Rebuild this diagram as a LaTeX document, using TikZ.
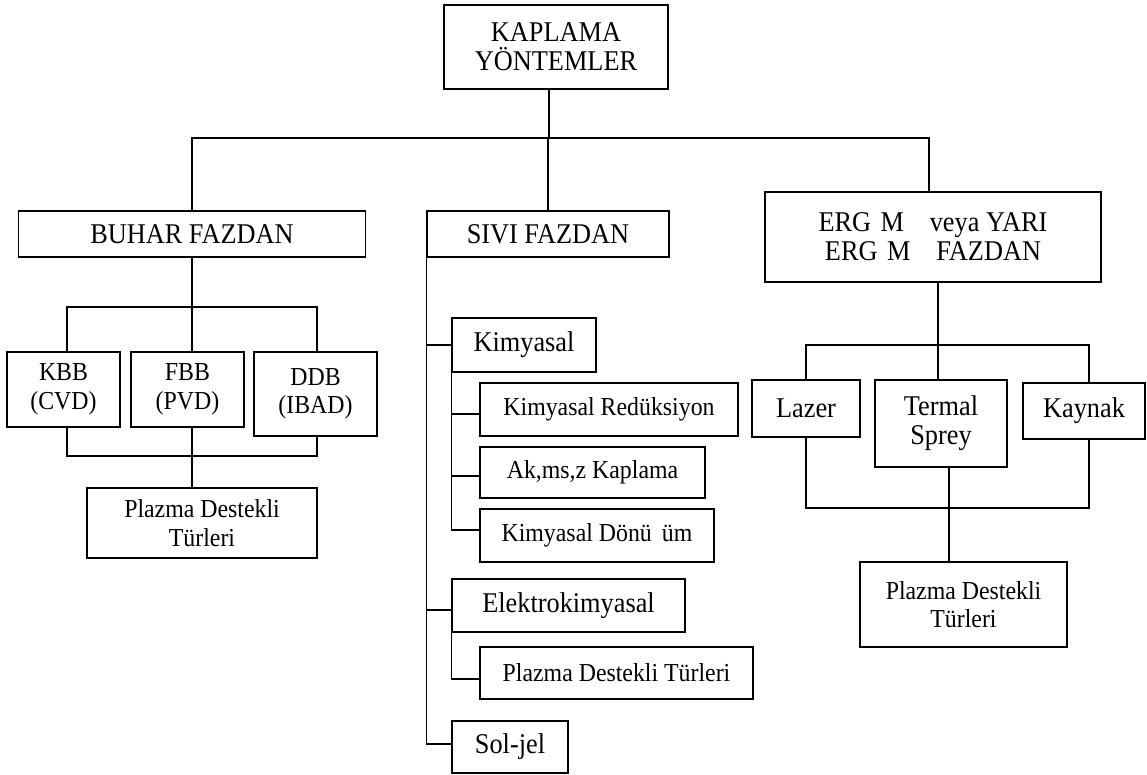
\documentclass[tikz,border=0pt]{standalone}
\usepackage{fontspec}
\setmainfont[FakeStretch=0.92]{Liberation Serif}
\begin{document}
\begin{tikzpicture}[x=1pt,y=-1pt,
  line width=1.5pt,
  box/.style={draw, line width=1.5pt, rectangle, inner sep=0pt, align=center},
  big/.style={font=\fontsize{28.6pt}{29pt}\selectfont},
  small/.style={font=\fontsize{25.9pt}{28.5pt}\selectfont}]
\useasboundingbox (0,0) rectangle (1147,775);

% top level
\node[box,big,minimum width=224,minimum height=84] (top) at (556,47) {KAPLAMA\\YÖNTEMLER};

% second level
\node[box,big,minimum width=347,minimum height=46] (buhar) at (192,234) {BUHAR FAZDAN};
\node[box,big,minimum width=242,minimum height=46] (sivi) at (548,234) {SIVI FAZDAN};
\node[box,big,minimum width=336,minimum height=90] (erg) at (933,237)
  {ERG\hspace{.333em}M\hspace{.9em}veya YARI\\ERG\hspace{.333em}M\hspace{.9em}FAZDAN};

% vapour phase branch
\node[box,small,minimum width=113,minimum height=75] (kbb) at (63.5,389.5) {KBB\\(CVD)};
\node[box,small,minimum width=113,minimum height=75] (fbb) at (187.5,389.5) {FBB\\(PVD)};
\node[box,small,minimum width=123,minimum height=84] (ddb) at (315.5,394) {DDB\\(IBAD)};
\node[box,small,minimum width=230,minimum height=70] (plazL) at (202,523) {Plazma Destekli\\Türleri};

% liquid phase branch
\node[box,big,minimum width=144,minimum height=54] (kim) at (524,345) {Kimyasal};
\node[box,small,minimum width=258,minimum height=53] (red) at (609,409.5) {Kimyasal Redüksiyon};
\node[box,small,minimum width=225,minimum height=51] (akm) at (592.5,472.5) {Ak,ms,z Kaplama};
\node[box,small,minimum width=234,minimum height=53] (don) at (597,535.5) {Kimyasal Dönü\hspace{.389em}üm};
\node[box,big,minimum width=233,minimum height=53] (elk) at (568.5,605.5) {Elektrokimyasal};
\node[box,small,minimum width=273,minimum height=52] (plazM) at (616.5,673) {Plazma Destekli Türleri};
\node[box,big,minimum width=116,minimum height=52] (sol) at (510,747) {Sol-jel};

% molten / semi-molten branch
\node[box,big,minimum width=108,minimum height=57] (lazer) at (806,408.5) {Lazer};
\node[box,big,minimum width=132,minimum height=87] (termal) at (941,423.5) {Termal\\Sprey};
\node[box,big,minimum width=122,minimum height=56] (kaynak) at (1084,411) {Kaynak};
\node[box,small,minimum width=207,minimum height=85] (plazR) at (963.5,604.5) {Plazma Destekli\\Türleri};

% junction points
\coordinate (busT) at (549,138);
\coordinate (busB) at (192,307);
\coordinate (busL) at (192,456);
\coordinate (busR) at (938,345);
\coordinate (busR2) at (949,508);

% attachment points on the box sides
\coordinate (solIn) at ([yshift=3pt]sol.west);
\coordinate (elkIn) at ([yshift=-4.5pt]elk.west);
\coordinate (redIn) at ([yshift=-4.5pt]red.west);
\coordinate (akmIn) at ([yshift=-3.5pt]akm.west);
\coordinate (donIn) at ([yshift=5.5pt]don.west);
\coordinate (plazMIn) at ([yshift=-6pt]plazM.west);

% top bus
\draw ([xshift=-7pt]top.south) -- (busT);
\draw (buhar.north) |- (busT);
\draw ([xshift=-4pt]erg.north) |- (busT);
\draw (sivi.north) -- (sivi.north |- busT);

% vapour phase connectors
\draw (buhar.south) -- (busB);
\draw ([xshift=3.5pt]kbb.north) |- (busB);
\draw ([xshift=1.5pt]ddb.north) |- (busB);
\draw ([xshift=4.5pt]fbb.north) -- (busB);
\draw ([xshift=3.5pt]kbb.south) |- (busL);
\draw ([xshift=1.5pt]ddb.south) |- (busL);
\draw ([xshift=4.5pt]fbb.south) -- (busL) -- (busL |- plazL.north);

% liquid phase connectors
\draw (sivi.south west) |- (solIn);
\draw (kim.west -| sivi.south west) -- (kim.west);
\draw (elkIn -| sivi.south west) -- (elkIn);
\draw (kim.south west) |- (donIn);
\draw (redIn -| kim.south west) -- (redIn);
\draw (akmIn -| kim.south west) -- (akmIn);
\draw (elk.south west) |- (plazMIn);

% molten phase connectors
\draw ([xshift=5pt]erg.south) -- (busR);
\draw (lazer.north) |- (busR);
\draw ([xshift=5pt]kaynak.north) |- (busR);
\draw (busR) -- (busR |- termal.north);
\draw (lazer.south) |- (busR2);
\draw ([xshift=5pt]kaynak.south) |- (busR2);
\draw ([xshift=8pt]termal.south) -- (busR2) -- (busR2 |- plazR.north);
\end{tikzpicture}
\end{document}
